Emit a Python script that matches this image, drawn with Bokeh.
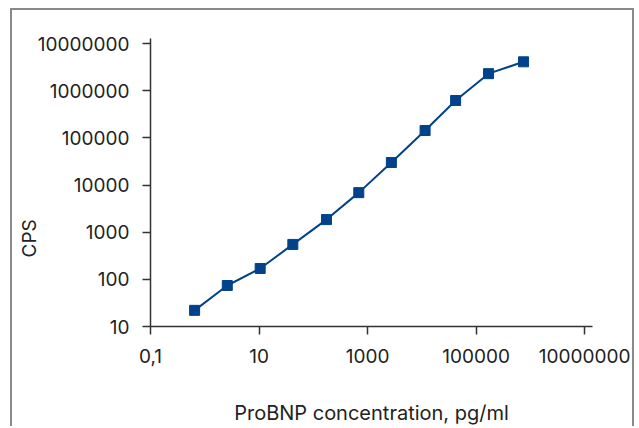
from bokeh.plotting import figure
from bokeh.models import Range1d, FixedTicker, CustomJSTickFormatter, Title
from bokeh.embed import file_html
from bokeh.resources import INLINE

# Data
concentration = [0.65, 2.6, 10.5, 42, 175, 690, 2750, 11500, 42000, 170000, 750000]
cps = [22, 74, 170, 550, 1850, 6900, 30000, 143000, 620000, 2300000, 4100000]
x_ticks = [0.1, 10, 1000, 100000, 10000000]
y_ticks = [10, 100, 1000, 10000, 100000, 1000000, 10000000]
x_title = "ProBNP concentration, pg/ml"
y_title = "CPS"

FONT = "Inter"
BLUE = "#02428a"
TEXT = "#222222"

p = figure(width=624, height=418, x_axis_type="log", y_axis_type="log",
           x_range=Range1d(0.1, 1.4e7), y_range=Range1d(10, 1.28e7),
           output_backend="svg", toolbar_location=None,
           min_border_left=138, min_border_right=44, min_border_top=28, min_border_bottom=102,
           styles={"border-left": "2px solid #8a8a8a", "border-top": "2px solid #8a8a8a",
                   "border-right": "2px solid #8a8a8a",
                   "margin-left": "10px", "margin-top": "8px"})

p.line(concentration, cps, line_color=BLUE, line_width=2)
p.scatter(concentration, cps, marker="square", size=10, fill_color=BLUE, line_color=BLUE)

p.grid.visible = False
p.outline_line_color = None

fmt = CustomJSTickFormatter(code="return tick.toString().replace('.', ',');")
p.xaxis.ticker = FixedTicker(ticks=x_ticks, minor_ticks=[])
p.yaxis.ticker = FixedTicker(ticks=y_ticks, minor_ticks=[])
p.xaxis.formatter = fmt
p.yaxis.formatter = fmt

for ax in (p.xaxis, p.yaxis):
    ax.axis_line_color = "#333333"
    ax.axis_line_width = 1.5
    ax.major_tick_line_color = "#333333"
    ax.major_tick_line_width = 1.5
    ax.major_tick_out = 8
    ax.major_tick_in = 0
    ax.minor_tick_line_color = None
    ax.major_label_text_font = FONT
    ax.major_label_text_font_size = "19px"
    ax.major_label_text_color = TEXT
    ax.axis_label_text_font = FONT
    ax.axis_label_text_font_style = "normal"
    ax.axis_label_text_color = TEXT

p.xaxis.major_label_standoff = 14
p.yaxis.major_label_standoff = 13
p.xaxis.axis_label = x_title
p.xaxis.axis_label_text_font_size = "20px"
p.xaxis.axis_label_standoff = 35

# y title: a side title anchored at the bottom of the frame and lifted by offset
p.add_layout(Title(text=y_title, align="left", offset=69, vertical_align="bottom",
                   standoff=-12, text_font=FONT, text_font_size="19px",
                   text_font_style="normal", text_color=TEXT), "left")

open("out.html", "w").write(file_html(p, INLINE))
